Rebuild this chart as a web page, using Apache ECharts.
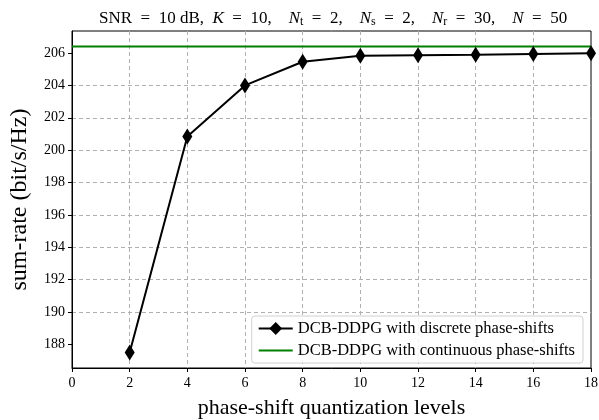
<!DOCTYPE html>
<html>
<head>
<meta charset="utf-8">
<script src="https://cdn.jsdelivr.net/npm/echarts@6/dist/echarts.min.js"></script>
<style>
  html, body { margin: 0; padding: 0; background: #fff; }
  #chart { width: 599px; height: 420px; }
</style>
</head>
<body>
<div id="chart"></div>
<script>
// Quantization levels and achieved sum-rate (bit/s/Hz)
const levels = [2, 4, 6, 8, 10, 12, 14, 16, 18];
const discreteRate = [187.5, 200.85, 204.0, 205.46, 205.83, 205.87, 205.9, 205.94, 205.98];
// Continuous phase-shift reference level
const continuousRate = 206.41;
const continuousSpan = [0, 18];

// Axis ticks
const xTicks = [0, 2, 4, 6, 8, 10, 12, 14, 16, 18];
const yTicks = [188, 190, 192, 194, 196, 198, 200, 202, 204, 206];
const yRange = [186.55, 207.36];

const serif = '"Liberation Serif", "DejaVu Serif", serif';
const discreteName = 'DCB-DDPG with discrete phase-shifts';
const continuousName = 'DCB-DDPG with continuous phase-shifts';

const chart = echarts.init(document.getElementById('chart'), null, { renderer: 'canvas' });

const gridLine = {
  show: true, showMinLine: false, showMaxLine: false,
  lineStyle: { color: '#b0b0b0', type: [4, 3], width: 1 }
};

chart.setOption({
  animation: false,
  backgroundColor: '#fff',
  title: {
    text: 'SNR  =  10 dB,  {i|K}  =  10,    {i|N}{s|t}  =  2,    {i|N}{s|s}  =  2,    {i|N}{s|r}  =  30,    {i|N}  =  50',
    left: 94,
    top: 4,
    textStyle: {
      fontFamily: serif, fontSize: 17, fontWeight: 'normal', color: '#000',
      rich: {
        i: { fontFamily: serif, fontSize: 17, fontStyle: 'italic', color: '#000' },
        s: { fontFamily: serif, fontSize: 12, color: '#000', padding: [7, 0, 0, 0] }
      }
    }
  },
  grid: {
    left: 72, right: 8, top: 31, bottom: 52,
    outerBoundsMode: 'none', containLabel: false,
    show: true, borderColor: '#000', borderWidth: 1, backgroundColor: 'transparent'
  },
  legend: {
    right: 16, bottom: 57,
    orient: 'vertical',
    itemWidth: 34, itemHeight: 16, itemGap: 5,
    padding: [4, 8, 4, 6],
    backgroundColor: 'rgba(255,255,255,0.85)',
    borderColor: '#d0d0d0', borderWidth: 1, borderRadius: 3,
    textStyle: { fontFamily: serif, fontSize: 16.5, color: '#000' },
    data: [
      { name: discreteName },
      { name: continuousName, icon: 'path://M0,0 L34,0 L34,2 L0,2 Z' }
    ]
  },
  xAxis: {
    type: 'value', min: 0, max: 18, interval: 2,
    name: 'phase-shift quantization levels',
    nameLocation: 'middle', nameGap: 29,
    nameTextStyle: { fontFamily: serif, fontSize: 22, color: '#000' },
    axisLine: { show: true, onZero: false, lineStyle: { color: '#000', width: 1 } },
    axisTick: { show: true, inside: false, length: 4, lineStyle: { color: '#000' } },
    axisLabel: { fontFamily: serif, fontSize: 14, color: '#000', margin: 8 },
    splitLine: gridLine
  },
  yAxis: {
    type: 'value', min: yRange[0], max: yRange[1],
    name: 'sum-rate (bit/s/Hz)',
    nameLocation: 'middle', nameGap: 40, nameRotate: 90,
    nameTextStyle: { fontFamily: serif, fontSize: 24, color: '#000' },
    axisLine: { show: true, onZero: false, lineStyle: { color: '#000', width: 1 } },
    axisTick: { show: true, inside: false, length: 4, lineStyle: { color: '#000' }, customValues: yTicks },
    axisLabel: { fontFamily: serif, fontSize: 14, color: '#000', margin: 7, customValues: yTicks },
    splitLine: gridLine
  },
  series: [
    {
      name: continuousName,
      type: 'line',
      data: continuousSpan.map(x => [x, continuousRate]),
      showSymbol: false, symbol: 'none',
      lineStyle: { color: '#008000', width: 2 },
      itemStyle: { color: '#008000' },
      z: 3
    },
    {
      name: discreteName,
      type: 'line',
      data: levels.map((x, i) => [x, discreteRate[i]]),
      symbol: 'diamond', symbolSize: [10, 16],
      lineStyle: { color: '#000', width: 2 },
      itemStyle: { color: '#000' },
      z: 4
    }
  ]
});
</script>
</body>
</html>
